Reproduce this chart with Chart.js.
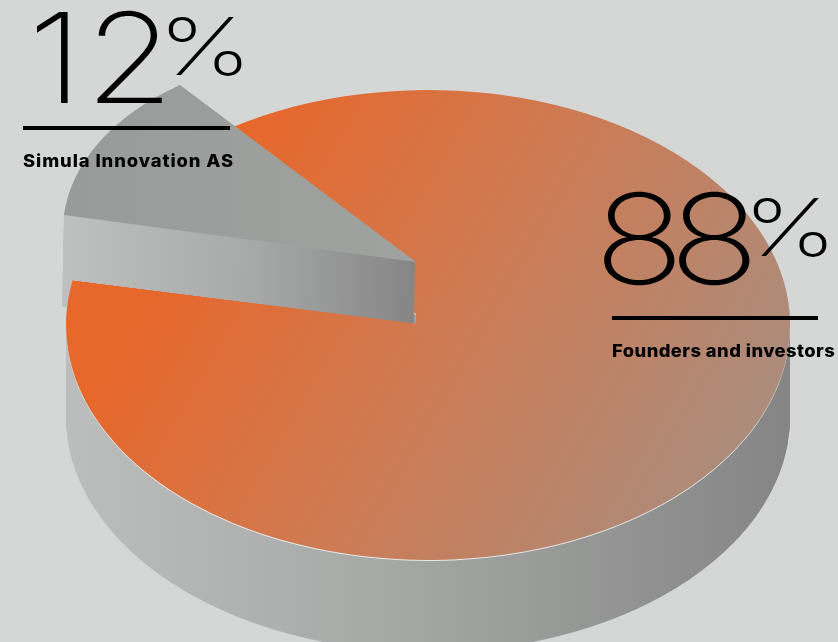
<!DOCTYPE html>
<html lang="en">
<head>
  <meta charset="UTF-8">
  <title>Ownership split</title>
  <script src="https://cdn.jsdelivr.net/npm/chart.js@4/dist/chart.umd.min.js"></script>
  <style>
    html, body { margin: 0; background: #d5d7d6; }
    #wrap { position: relative; width: 838px; height: 642px; overflow: hidden; }
    canvas { display: block; }
    .callout { position: absolute; left: 0; top: 0; color: #000; white-space: nowrap; }
    .num, .unit { position: absolute; font-family: Inter, sans-serif; font-weight: 150; transform-origin: 0 0; }
    .num { font-size: 125px; line-height: 125px; }
    .unit { font-size: 80px; line-height: 80px; }
    .rule { position: absolute; height: 4px; background: #000; }
    .name { position: absolute; font-family: Inter, sans-serif; font-weight: 800; font-size: 17px; line-height: 20px; transform-origin: 0 0; transform: scaleX(1.08); }

    #c0 .num { left: 594px; top: 176px; letter-spacing: -13px; transform: scaleX(1.2); }
    #c0 .unit { left: 743px; top: 187px; transform: scaleX(1.32); }
    #c0 .rule { left: 612px; top: 316px; width: 206px; }
    #c0 .name { left: 612px; top: 341px; letter-spacing: 0.4px; }

    #c1 .num { left: 28px; top: -5px; letter-spacing: 2px; transform: scaleX(1.15); }
    #c1 .unit { left: 157.5px; top: 5.5px; transform: scaleX(1.32); }
    #c1 .rule { left: 23px; top: 126px; width: 207px; }
    #c1 .name { left: 23px; top: 151px; letter-spacing: 0.85px; }
  </style>
</head>
<body>
  <div id="wrap">
    <canvas id="pie" width="838" height="642"></canvas>
    <div class="callout" id="c0"><div class="num"></div><div class="unit"></div><div class="rule"></div><div class="name"></div></div>
    <div class="callout" id="c1"><div class="num"></div><div class="unit"></div><div class="rule"></div><div class="name"></div></div>
  </div>

  <script>
    const owners = ['Founders and investors', 'Simula Innovation AS'];
    const shares = [88, 12];
    const tickUnit = '%';

    // orange slice starts here, clockwise from 12 o'clock
    const startDeg = 324.2;
    const wallDepth = 92;

    // affine placement of each slice: [a, b, c, d, e, f] per unit of radius
    const bodyMatrix = [362, 0, 0, 235, 428, 325];
    const wedgeMatrix = [351.3, 6.3, 37.6, 213.6, 416, 262];
    // where the orange tip really meets the cut wall
    const tipShift = [-12, -2];

    const bodyStops = [[0, '#bcbdbd'], [0.45, '#a6a8a6'], [1, '#848584']];
    const wedgeWallStops = [[0, '#bfc0c0'], [0.55, '#a7a9a8'], [1, '#848584']];
    const faceStops = [[0, '#e8672a'], [0.12, '#e8672a'], [0.5, '#cf7a52'], [1, '#a88e80']];
    const wedgeFaceStops = [[0, '#999b9a'], [1, '#a0a2a0']];

    const Arc = Chart.ArcElement;

    // gradient that looks linear on screen, whatever the slice matrix is doing
    function screenGradient(ctx, arc, m, p0, p1, stops) {
      const R = arc.outerRadius;
      const [a, b, c, d, e, f] = [m[0] / R, m[1] / R, m[2] / R, m[3] / R, m[4], m[5]];
      const det = a * d - b * c;
      const px = p0[0] - e, py = p0[1] - f;
      const sx = arc.x + (d * px - c * py) / det;
      const sy = arc.y + (a * py - b * px) / det;
      const dx = p1[0] - p0[0], dy = p1[1] - p0[1], l2 = dx * dx + dy * dy;
      const gx = (a * dx + b * dy) / l2, gy = (c * dx + d * dy) / l2;
      const g2 = gx * gx + gy * gy;
      const grad = ctx.createLinearGradient(sx, sy, sx + gx / g2, sy + gy / g2);
      stops.forEach(s => grad.addColorStop(s[0], s[1]));
      return grad;
    }

    // paints a library arc element through a matrix, with its own fill
    function paintArc(ctx, arc, m, shiftX, shiftY, fill) {
      const R = arc.outerRadius;
      const view = Object.create(arc);
      view.options = Object.create(arc.options, { backgroundColor: { value: fill } });
      ctx.save();
      ctx.transform(m[0] / R, m[1] / R, m[2] / R, m[3] / R, m[4] + shiftX, m[5] + shiftY);
      ctx.translate(-arc.x, -arc.y);
      Arc.prototype.draw.call(view, ctx);
      ctx.restore();
    }

    const tiltedPie = {
      id: 'tiltedPie',
      beforeDatasetDraw(chart) {
        const ctx = chart.ctx;
        const [body, wedge] = chart.getDatasetMeta(0).data;

        const bodyWall = screenGradient(ctx, body, bodyMatrix, [66, 0], [790, 0], bodyStops);
        const wedgeWall = screenGradient(ctx, wedge, wedgeMatrix, [62, 0], [416, 0], wedgeWallStops);
        const face = screenGradient(ctx, body, bodyMatrix, [120, 160], [740, 520], faceStops);
        const wedgeFace = screenGradient(ctx, wedge, wedgeMatrix, [70, 200], [400, 200], wedgeFaceStops);

        const wedgeLayers = () => {
          for (let t = wallDepth; t > 0; t--) {
            paintArc(ctx, wedge, wedgeMatrix, -2 * t / wallDepth, t, wedgeWall);
          }
        };

        for (let t = wallDepth; t > 0; t--) {
          paintArc(ctx, body, bodyMatrix, 0, t, bodyWall);
        }
        wedgeLayers();

        paintArc(ctx, body, bodyMatrix, 0, 1, 'rgba(255,255,255,0.75)');
        paintArc(ctx, body, bodyMatrix, 0, 0, face);

        // close the small notch between the tip and the cut wall
        const cx = bodyMatrix[4], cy = bodyMatrix[5];
        ctx.save();
        ctx.beginPath();
        ctx.rect(cx + tipShift[0], cy - 30, 30, 40);
        ctx.clip();
        paintArc(ctx, body, bodyMatrix, tipShift[0], tipShift[1], face);
        ctx.restore();

        // the cut wall sits above the orange only on the far side of the cut edge
        const ex = Math.cos(body.endAngle) * bodyMatrix[0];
        const ey = Math.sin(body.endAngle) * bodyMatrix[3];
        ctx.save();
        ctx.beginPath();
        ctx.moveTo(cx + tipShift[0], cy + tipShift[1]);
        ctx.lineTo(cx + ex * 2, cy + ey * 2);
        ctx.lineTo(cx + ex * 2, 0);
        ctx.lineTo(chart.width, 0);
        ctx.lineTo(chart.width, cy + tipShift[1]);
        ctx.closePath();
        ctx.clip();
        wedgeLayers();
        ctx.restore();

        paintArc(ctx, wedge, wedgeMatrix, 0, 0, wedgeFace);
        return false;
      }
    };

    new Chart(document.getElementById('pie'), {
      type: 'pie',
      data: {
        labels: owners,
        datasets: [{ data: shares, backgroundColor: ['#e8672a', '#9a9c9a'], borderWidth: 0 }]
      },
      options: {
        responsive: false,
        animation: false,
        rotation: startDeg,
        plugins: { legend: { display: false }, tooltip: { enabled: false } }
      },
      plugins: [tiltedPie]
    });

    shares.forEach((v, i) => {
      const box = document.getElementById('c' + i);
      box.querySelector('.num').textContent = v;
      box.querySelector('.unit').textContent = tickUnit;
      box.querySelector('.name').textContent = owners[i];
    });
  </script>
</body>
</html>
